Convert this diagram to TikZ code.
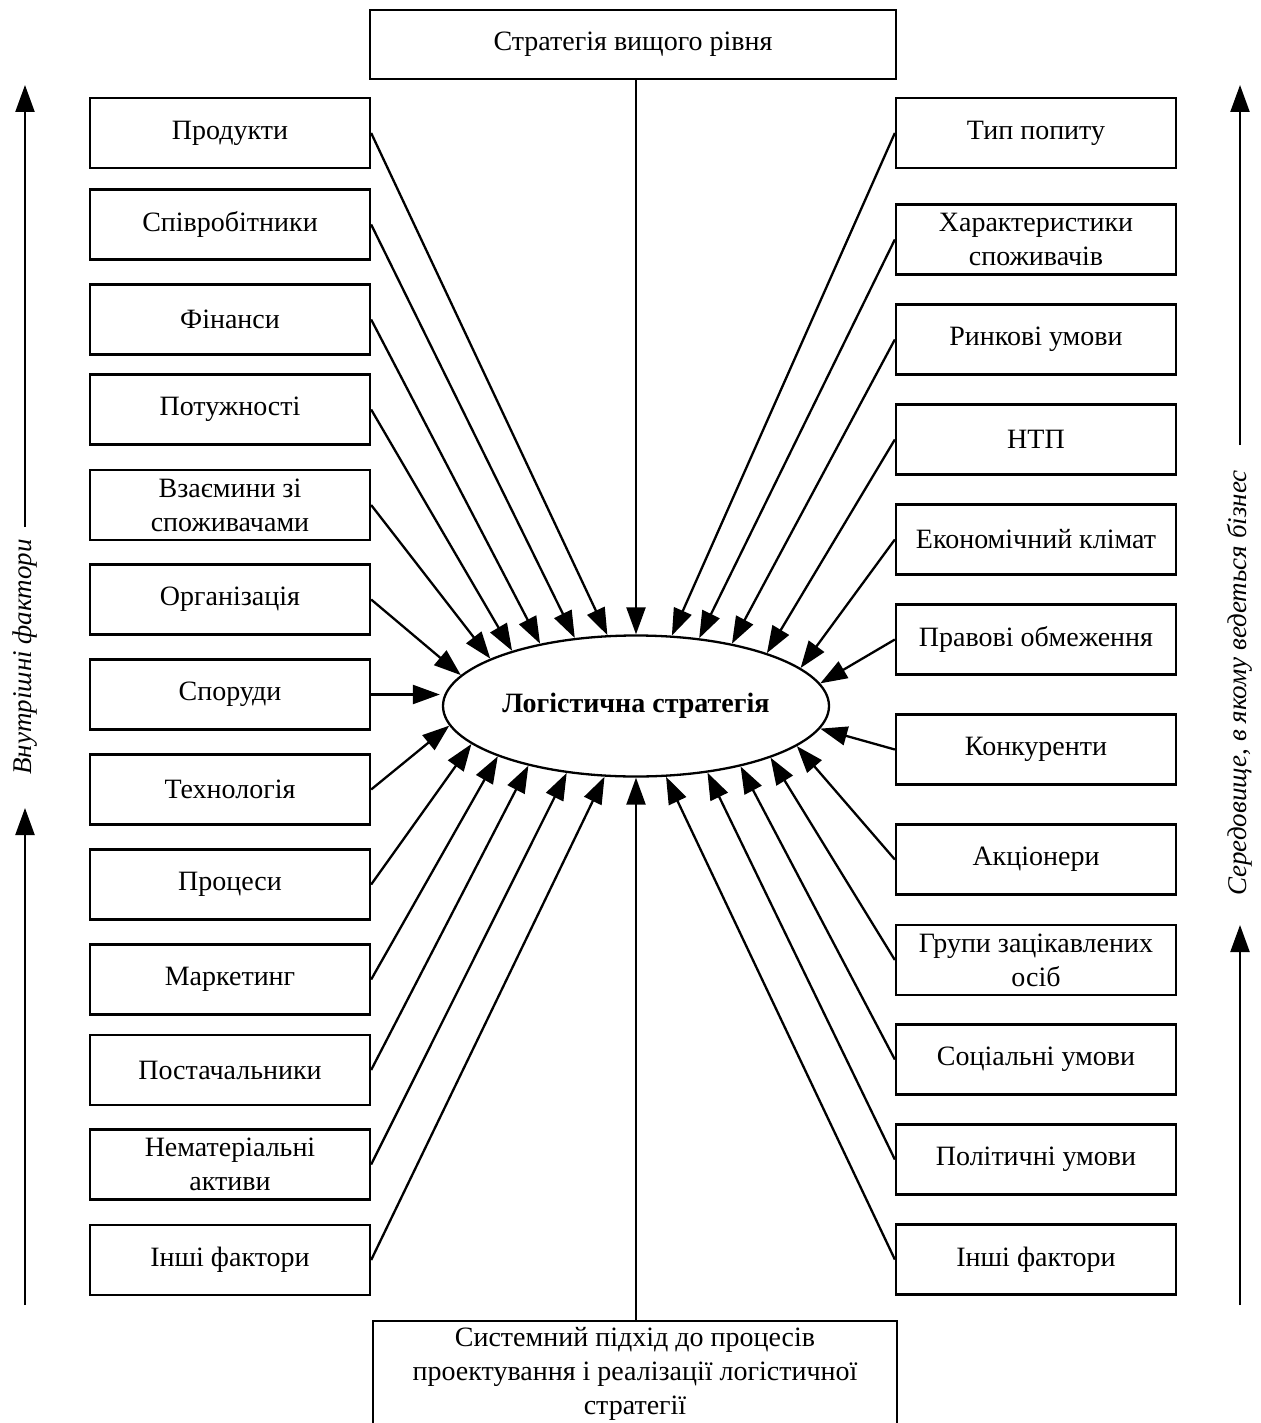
\documentclass[tikz,border=0pt]{standalone}
\usepackage{fontspec}
\setmainfont{Liberation Serif}
\usetikzlibrary{arrows.meta,shapes.geometric}
\begin{document}
\begin{tikzpicture}[x=1pt,y=-1pt,
  txt/.style={font=\fontsize{28}{34}\selectfont},
  box/.style={txt,draw,line width=2.3pt,rectangle,inner sep=0pt,minimum width=280pt,minimum height=70pt,align=center},
  arr/.style={line width=2.3pt,-{Triangle[length=27pt,width=19pt]}},
  side/.style={txt,font=\fontsize{27}{34}\selectfont\itshape,rotate=90,inner sep=0pt}]
\useasboundingbox (0,0) rectangle (1260,1423);
\clip (0,0) rectangle (1260,1423);
% central ellipse
\node[draw,line width=2.3pt,ellipse,inner sep=0pt,minimum width=386pt,minimum height=141pt,txt,font=\fontsize{28}{34}\selectfont\bfseries] (e) at (636,706) {Логістична стратегія};
% top and bottom boxes
\node[box,minimum width=526pt,minimum height=69pt] (t) at (633,44.5) {Стратегія вищого рівня};
\node[draw,line width=2.3pt,rectangle,inner sep=0pt,minimum width=524pt,minimum height=130pt,anchor=north] (b) at (635,1320) {};
\node[txt,align=center,inner sep=0pt] (bt) at (635,1374) {Системний підхід до процесів\\проектування і реалізації логістичної\\стратегії};
% left boxes
\node[box] (l1) at (230,133) {Продукти};
\node[box] (l2) at (230,224.5) {Співробітники};
\node[box] (l3) at (230,319.5) {Фінанси};
\node[box] (l4) at (230,409.5) {Потужності};
\node[box] (l5) at (230,505) {Взаємини зі\\споживачами};
\node[box] (l6) at (230,599.5) {Організація};
\node[box] (l7) at (230,694.5) {Споруди};
\node[box] (l8) at (230,789.5) {Технологія};
\node[box] (l9) at (230,884.5) {Процеси};
\node[box] (l10) at (230,979.5) {Маркетинг};
\node[box] (l11) at (230,1070) {Постачальники};
\node[box] (l12) at (230,1164.5) {Нематеріальні\\активи};
\node[box] (l13) at (230,1260) {Інші фактори};
% right boxes
\node[box] (r1) at (1036,133) {Тип попиту};
\node[box] (r2) at (1036,239.5) {Характеристики\\споживачів};
\node[box] (r3) at (1036,339.5) {Ринкові умови};
\node[box] (r4) at (1036,439.5) {НТП};
\node[box] (r5) at (1036,539.5) {Економічний клімат};
\node[box] (r6) at (1036,639.5) {Правові обмеження};
\node[box] (r7) at (1036,749.5) {Конкуренти};
\node[box] (r8) at (1036,859.5) {Акціонери};
\node[box] (r9) at (1036,960) {Групи зацікавлених\\осіб};
\node[box] (r10) at (1036,1059.5) {Соціальні умови};
\node[box] (r11) at (1036,1159.5) {Політичні умови};
\node[box] (r12) at (1036,1259.5) {Інші фактори};
% connectors
\draw[arr] (e.90 |- t.south) -- (e.90);
\draw[arr] (b.north -| e.270) -- (e.270);
\draw[arr] (l1.east) -- (e.112.2);
\draw[arr] (l2.east) -- (e.132.8);
\draw[arr] (l3.east) -- (e.147.3);
\draw[arr] (l4.east) -- (e.156.3);
\draw[arr] (l5.east) -- (e.162.7);
\draw[arr] (l6.east) -- (e.170.6);
\draw[arr,shorten >=2pt] (l7.east) -- (l7.east -| e.west);
\draw[arr] (l8.east) -- (e.186.4);
\draw[arr] (l9.east) -- (e.193.2);
\draw[arr] (l10.east) -- (e.200.3);
\draw[arr] (l11.east) -- (e.209.9);
\draw[arr] (l12.east) -- (e.224.2);
\draw[arr] (l13.east) -- (e.246.4);
\draw[arr] (r1.west) -- (e.63.8);
\draw[arr] (r2.west) -- (e.47.2);
\draw[arr] (r3.west) -- (e.33.3);
\draw[arr] (r4.west) -- (e.22.1);
\draw[arr] (r5.west) -- (e.13.4);
\draw[arr] (r6.west) -- (e.7.0);
\draw[arr] (r7.west) -- (e.353.3);
\draw[arr] (r8.west) -- (e.346.8);
\draw[arr] (r9.west) -- (e.339.9);
\draw[arr] (r10.west) -- (e.330.8);
\draw[arr] (r11.west) -- (e.317.8);
\draw[arr] (r12.west) -- (e.293.6);
% side labels and arrows
\node[side] (ls) at (25,657) {Внутрішні фактори};
\coordinate (la1) at (25,527);
\coordinate (la2) at (25,85);
\coordinate (lb1) at (25,1305);
\coordinate (lb2) at (25,808);
\draw[arr] (la1) -- (la2);
\draw[arr] (lb1) -- (lb2);
\node[side] (rs) at (1240,683) {Середовище, в якому ведеться бізнес};
\coordinate (ra1) at (1240,445);
\coordinate (ra2) at (1240,85);
\coordinate (rb1) at (1240,1305);
\coordinate (rb2) at (1240,925);
\draw[arr] (ra1) -- (ra2);
\draw[arr] (rb1) -- (rb2);
\end{tikzpicture}
\end{document}
